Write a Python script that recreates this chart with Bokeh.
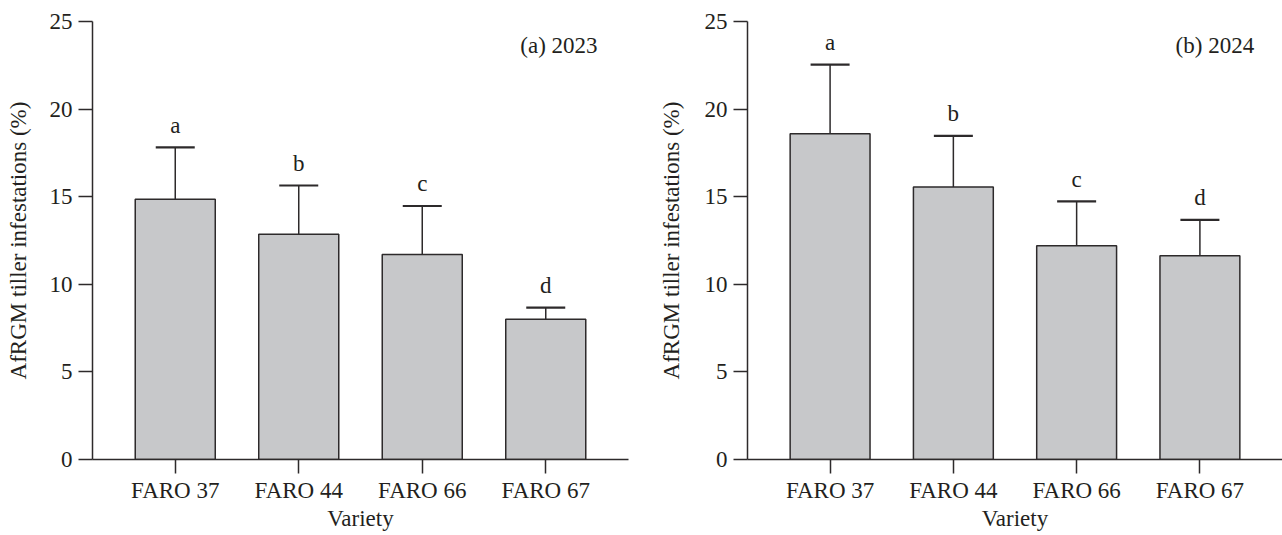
from bokeh.plotting import figure
from bokeh.models import FactorRange, Range1d, ColumnDataSource, Whisker, TeeHead, Label, FixedTicker
from bokeh.layouts import row
from bokeh.core.properties import value
from bokeh.embed import file_html
from bokeh.resources import INLINE

# ---- data ----
varieties = ["FARO 37", "FARO 44", "FARO 66", "FARO 67"]
mean_2023 = [14.85, 12.85, 11.7, 8.0]
err_2023 = [2.96, 2.79, 2.77, 0.67]
letters_2023 = ["a", "b", "c", "d"]
mean_2024 = [18.6, 15.55, 12.2, 11.63]
err_2024 = [3.94, 2.92, 2.53, 2.05]
letters_2024 = ["a", "b", "c", "d"]
y_ticks = [0, 5, 10, 15, 20, 25]
y_label = "AfRGM tiller infestations (%)"
x_label = "Variety"

FONT = "Liberation Serif"
FS = "23px"
TXT = "#231f20"
LINE = "#2d2a2b"
FILL = "#c7c8ca"


def panel(means, errs, letters, tag, width, bl, br, bt, pad, ylab_standoff, tag_x):
    upper = [m + e for m, e in zip(means, errs)]
    src = ColumnDataSource(dict(x=varieties, top=means, upper=upper, lab=letters))
    p = figure(
        x_range=FactorRange(factors=varieties, range_padding=pad, range_padding_units="absolute"),
        y_range=Range1d(0, 25),
        width=width, height=535, output_backend="svg", toolbar_location=None,
        min_border_left=bl, min_border_right=br, min_border_top=bt, min_border_bottom=76,
    )
    p.vbar(x="x", top="top", width=0.648, source=src, fill_color=FILL,
           line_color=LINE, line_width=1.5)
    w = Whisker(base="x", upper="upper", lower="top", source=src, dimension="height",
                upper_head=TeeHead(size=39, line_color=LINE, line_width=2.2),
                lower_head=None, line_color=LINE, line_width=1.5)
    p.add_layout(w)
    p.text(x="x", y="upper", text="lab", source=src, text_align="center",
           text_baseline="alphabetic", y_offset=-22, text_font=value(FONT),
           text_font_size=FS, text_color=TXT)
    p.add_layout(Label(x=tag_x, y=23.64, text=tag, text_align="right",
                       text_baseline="alphabetic", text_font=FONT,
                       text_font_size=FS, text_color=TXT))

    p.xgrid.grid_line_color = None
    p.ygrid.grid_line_color = None
    p.outline_line_color = None

    for ax in (p.xaxis[0], p.yaxis[0]):
        ax.axis_line_color = LINE
        ax.axis_line_width = 1.5
        ax.major_tick_line_color = LINE
        ax.major_tick_line_width = 1.5
        ax.major_tick_in = 0
        ax.major_tick_out = 14
        ax.minor_tick_line_color = None
        ax.major_label_text_font = FONT
        ax.major_label_text_font_size = FS
        ax.major_label_text_color = TXT
        ax.axis_label_text_font = FONT
        ax.axis_label_text_font_size = FS
        ax.axis_label_text_font_style = "normal"
        ax.axis_label_text_color = TXT

    p.yaxis.ticker = FixedTicker(ticks=y_ticks)
    p.yaxis.axis_label = y_label
    p.yaxis.major_label_standoff = 6
    p.yaxis.axis_label_standoff = ylab_standoff
    p.xaxis.axis_label = x_label
    p.xaxis.major_label_standoff = 4
    p.xaxis.axis_label_standoff = 0
    return p


p1 = panel(mean_2023, err_2023, letters_2023, "(a) 2023", 640, 92, 12, 21, 0.17, 16, 3.92)
p2 = panel(mean_2024, err_2024, letters_2024, "(b) 2024", 642, 107, 0, 20, 0.17, 18, 3.94)

layout = row(p1, p2, spacing=0)
open("out.html", "w").write(file_html(layout, INLINE))
